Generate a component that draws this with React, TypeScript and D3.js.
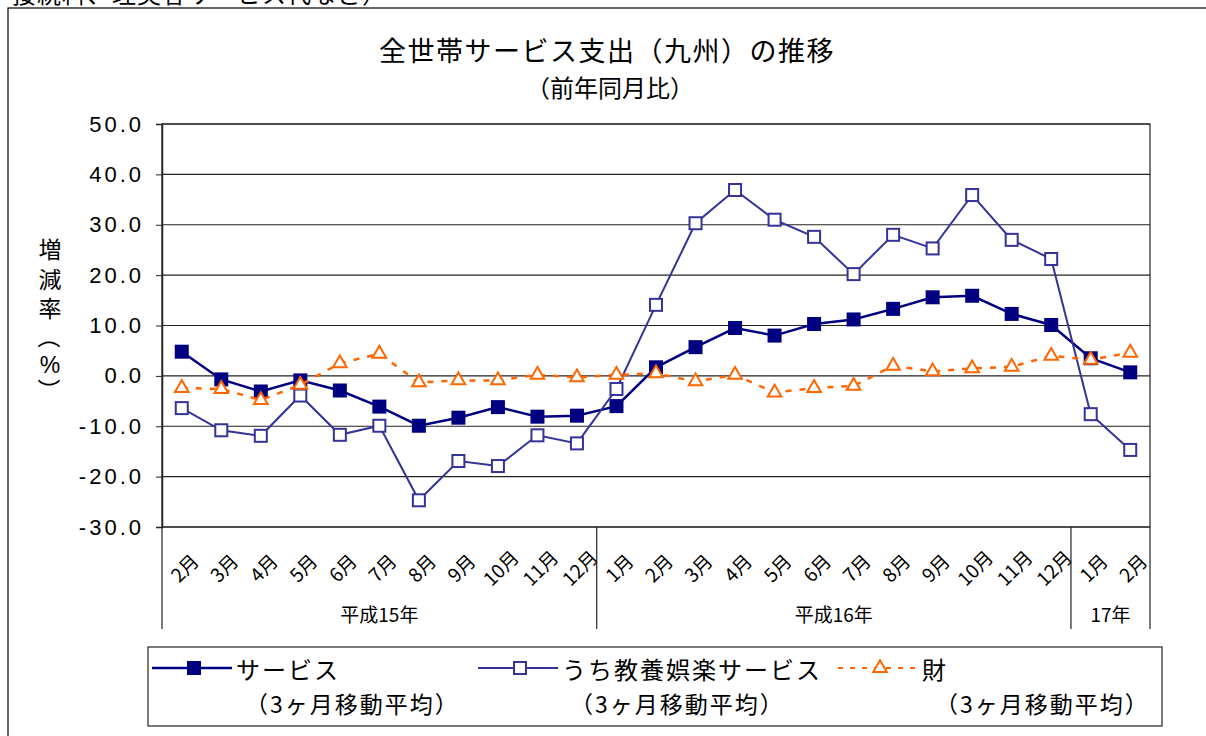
import React, { useEffect, useRef } from "react"
import * as d3 from "d3"

// month labels along the x axis
const months = [
  "2月", "3月", "4月", "5月", "6月", "7月", "8月", "9月", "10月", "11月", "12月",
  "1月", "2月", "3月", "4月", "5月", "6月", "7月", "8月", "9月", "10月", "11月", "12月",
  "1月", "2月",
]
const yearGroups = ["平成15年", "平成16年", "17年"]
const yearCounts = [11, 12, 2]

const services = [
  4.8, -0.7, -3.1, -0.9, -2.9, -6.1, -9.9, -8.3, -6.2, -8.1, -7.9,
  -6.0, 1.7, 5.7, 9.5, 8.0, 10.3, 11.2, 13.3, 15.6, 15.9, 12.3, 10.1,
  3.5, 0.7,
]
const culture = [
  -6.4, -10.8, -11.9, -3.9, -11.7, -9.9, -24.7, -16.9, -17.9, -11.8, -13.4,
  -2.6, 14.1, 30.3, 36.9, 31.0, 27.6, 20.2, 28.0, 25.3, 35.9, 27.0, 23.2,
  -7.6, -14.7,
]
const goods = [
  -2.4, -2.6, -4.8, -1.8, 2.5, 4.4, -1.3, -0.9, -0.9, 0.2, -0.3,
  0.2, 0.5, -1.1, 0.2, -3.3, -2.4, -2.0, 2.0, 0.9, 1.5, 1.8, 4.0,
  3.2, 4.6,
]
const yTicks = [50, 40, 30, 20, 10, 0, -10, -20, -30]

const JP = "'Noto Sans CJK JP', 'Noto Sans', sans-serif"
const NUM = "'Liberation Sans', Arial, sans-serif"

const App = () => {
  const ref = useRef<SVGSVGElement>(null)

  useEffect(() => {
    const svg = d3.select(ref.current)
    svg.selectAll("*").remove()

    const left = 162, right = 1150, top = 124, bottom = 527

    const x = d3.scaleBand<number>().domain(d3.range(months.length)).range([left, right])
    const cx = (i: number) => (x(i) as number) + x.bandwidth() / 2
    const y = d3.scaleLinear().domain([-30, 50]).range([bottom, top])

    // outer frame (cut by the page)
    svg.append("rect").attr("x", 8).attr("y", 8).attr("width", 1300).attr("height", 800)
      .attr("fill", "white").attr("stroke", "black").attr("stroke-width", 1.2)

    svg.append("text").attr("x", 12).attr("y", 3)
      .attr("font-family", JP).attr("font-size", 24).attr("letter-spacing", 1)
      .text("接続料、理美容サービス代など）")

    // titles
    svg.append("text").attr("x", 607).attr("y", 61).attr("text-anchor", "middle")
      .attr("font-family", JP).attr("font-size", 27).attr("letter-spacing", 1.5)
      .text("全世帯サービス支出（九州）の推移")
    svg.append("text").attr("x", 610).attr("y", 97).attr("text-anchor", "middle")
      .attr("font-family", JP).attr("font-size", 24)
      .text("（前年同月比）")

    // y label, vertical
    const ylab = [
      { c: "増", y: 248, r: 0 }, { c: "減", y: 278, r: 0 }, { c: "率", y: 307, r: 0 },
      { c: "（", y: 337, r: 90 }, { c: "%", y: 365, r: 0 }, { c: "）", y: 390, r: 90 },
    ]
    ylab.forEach((d) => {
      svg.append("text")
        .attr("transform", `translate(50,${d.y}) rotate(${d.r})`)
        .attr("text-anchor", "middle").attr("dominant-baseline", "central")
        .attr("font-family", d.c === "%" ? NUM : JP).attr("font-size", 23)
        .text(d.c)
    })

    // grid
    svg.append("g").selectAll("line").data(yTicks).enter().append("line")
      .attr("x1", left).attr("x2", right)
      .attr("y1", (d) => y(d)).attr("y2", (d) => y(d))
      .attr("stroke", "#222").attr("stroke-width", 1.2)
    svg.append("rect").attr("x", left).attr("y", top)
      .attr("width", right - left).attr("height", bottom - top)
      .attr("fill", "none").attr("stroke", "#222").attr("stroke-width", 1.2)

    // y axis
    const yAxis = d3.axisLeft(y).tickValues(yTicks).tickSize(6).tickPadding(12)
      .tickFormat((d) => (d as number).toFixed(1))
    const ya = svg.append("g").attr("transform", `translate(${left},0)`).call(yAxis)
    ya.select(".domain").attr("stroke", "#222").attr("stroke-width", 1.5)
    ya.selectAll("line").attr("stroke", "#222")
    ya.selectAll("text").attr("font-family", NUM).attr("font-size", 22)
      .attr("letter-spacing", 3).attr("fill", "black")

    // x axis month labels
    svg.append("g").selectAll("text").data(months).enter().append("text")
      .attr("transform", (d, i) => `translate(${cx(i) + 2},${567}) rotate(-45)`)
      .attr("text-anchor", "middle").attr("dominant-baseline", "central")
      .attr("font-family", JP).attr("font-size", 19)
      .text((d) => d)

    // year group separators and labels
    let start = 0
    const bounds = [left]
    yearCounts.forEach((n) => {
      start += n
      bounds.push(start < months.length ? (x(start) as number) : right)
    })
    svg.append("g").selectAll("line").data(bounds).enter().append("line")
      .attr("x1", (d) => d).attr("x2", (d) => d)
      .attr("y1", bottom).attr("y2", 629)
      .attr("stroke", "#222").attr("stroke-width", 1.2)
    svg.append("g").selectAll("text").data(yearGroups).enter().append("text")
      .attr("x", (d, i) => (bounds[i] + bounds[i + 1]) / 2)
      .attr("y", 622).attr("text-anchor", "middle")
      .attr("font-family", JP).attr("font-size", 19)
      .text((d) => d)

    const line = d3.line<number>().x((d, i) => cx(i)).y((d) => y(d))

    // サービス
    svg.append("path").datum(services).attr("d", line)
      .attr("fill", "none").attr("stroke", "#000080").attr("stroke-width", 2.5)
    svg.append("g").selectAll("rect").data(services).enter().append("rect")
      .attr("x", (d, i) => cx(i) - 7).attr("y", (d) => y(d) - 7)
      .attr("width", 14).attr("height", 14).attr("fill", "#000080")

    // うち教養娯楽サービス
    svg.append("path").datum(culture).attr("d", line)
      .attr("fill", "none").attr("stroke", "#333399").attr("stroke-width", 2)
    svg.append("g").selectAll("rect").data(culture).enter().append("rect")
      .attr("x", (d, i) => cx(i) - 6).attr("y", (d) => y(d) - 6)
      .attr("width", 12).attr("height", 12).attr("fill", "white")
      .attr("stroke", "#333399").attr("stroke-width", 2)

    // 財
    const tri = d3.symbol().type(d3.symbolTriangle).size(80)
    svg.append("path").datum(goods).attr("d", line)
      .attr("fill", "none").attr("stroke", "#FF6600").attr("stroke-width", 2.5)
      .attr("stroke-dasharray", "6,8")
    svg.append("g").selectAll("path").data(goods).enter().append("path")
      .attr("d", tri)
      .attr("transform", (d, i) => `translate(${cx(i)},${y(d)})`)
      .attr("fill", "white").attr("stroke", "#FF6600").attr("stroke-width", 2)

    // legend
    svg.append("rect").attr("x", 148).attr("y", 647).attr("width", 1014).attr("height", 79)
      .attr("fill", "white").attr("stroke", "#222").attr("stroke-width", 1.2)
    const legend = [
      { name: "サービス", x1: 152, sub: 245, color: "#000080", kind: "filled" },
      { name: "うち教養娯楽サービス", x1: 478, sub: 570, color: "#333399", kind: "hollow" },
      { name: "財", x1: 838, sub: 935, color: "#FF6600", kind: "tri" },
    ]
    legend.forEach((l) => {
      const ly = 668
      const g = svg.append("g")
      g.append("line").attr("x1", l.x1).attr("x2", l.x1 + 80).attr("y1", ly).attr("y2", ly)
        .attr("stroke", l.color).attr("stroke-width", l.kind === "filled" ? 2.5 : 2)
        .attr("stroke-dasharray", l.kind === "tri" ? "5,7" : null)
      const mx = l.x1 + 42
      if (l.kind === "filled") {
        g.append("rect").attr("x", mx - 7).attr("y", ly - 7).attr("width", 14).attr("height", 14)
          .attr("fill", l.color)
      } else if (l.kind === "hollow") {
        g.append("rect").attr("x", mx - 6).attr("y", ly - 6).attr("width", 12).attr("height", 12)
          .attr("fill", "white").attr("stroke", l.color).attr("stroke-width", 2)
      } else {
        g.append("path").attr("d", tri).attr("transform", `translate(${mx},${ly})`)
          .attr("fill", "white").attr("stroke", l.color).attr("stroke-width", 2)
      }
      g.append("text").attr("x", l.x1 + 84).attr("y", ly).attr("dominant-baseline", "central")
        .attr("font-family", JP).attr("font-size", 24).attr("letter-spacing", 2)
        .text(l.name)
      g.append("text").attr("x", l.sub).attr("y", 703).attr("dominant-baseline", "central")
        .attr("font-family", JP).attr("font-size", 23).attr("letter-spacing", 2)
        .text("（3ヶ月移動平均）")
    })
  }, [])

  return (
    <svg ref={ref} width={1206} height={736}
      style={{ position: "absolute", left: 0, top: 0, background: "white" }} />
  )
}

export default App
